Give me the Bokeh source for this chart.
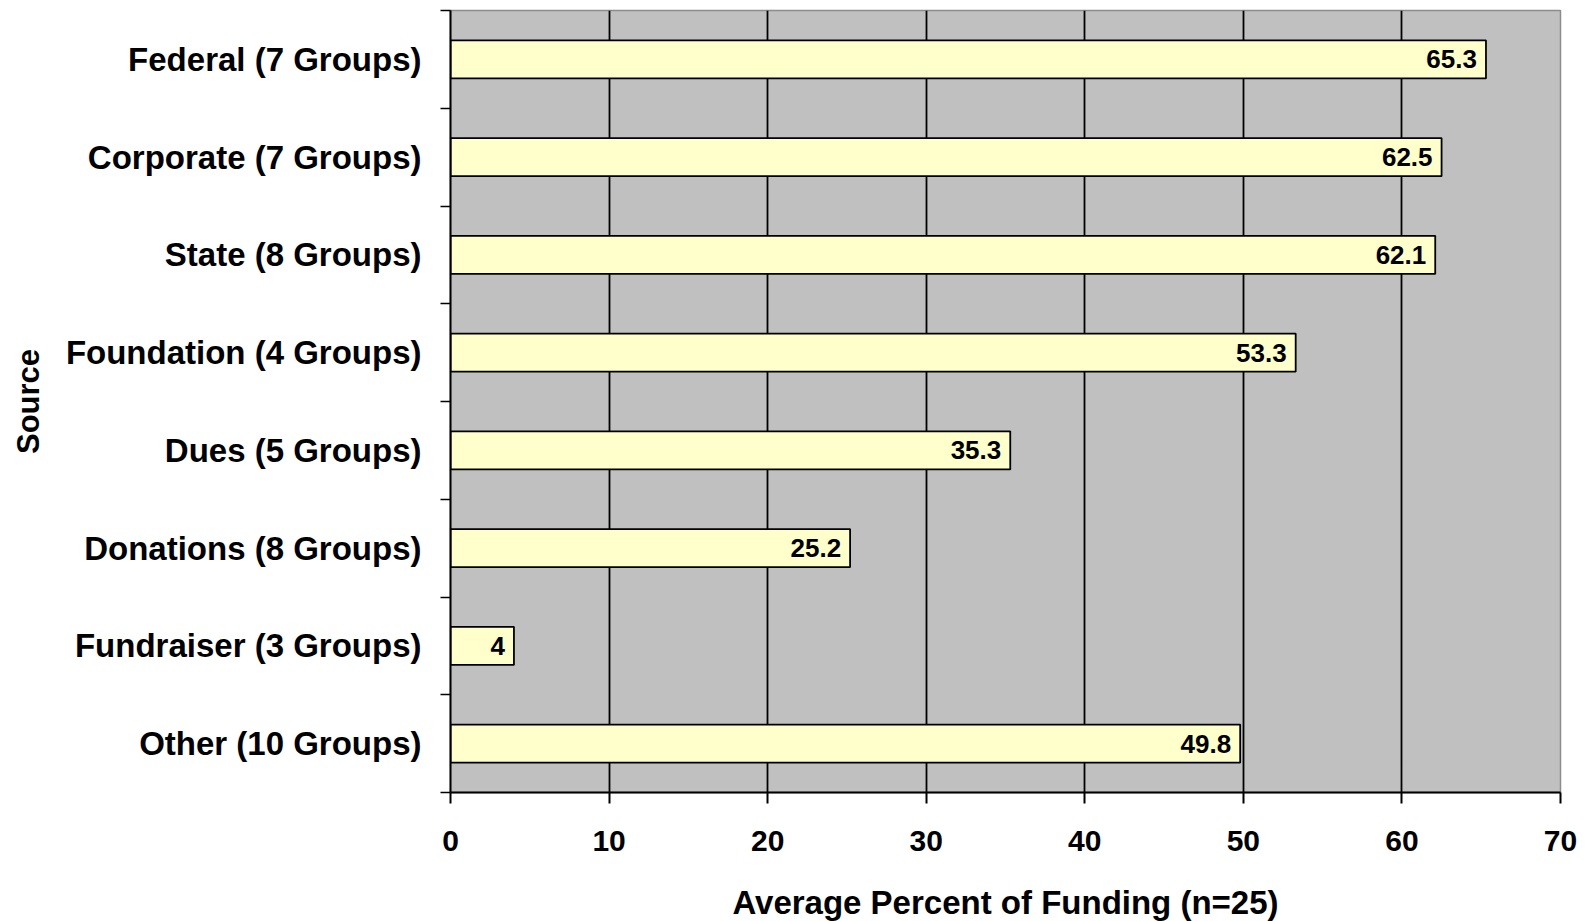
from bokeh.plotting import figure
from bokeh.models import ColumnDataSource, Range1d, FixedTicker, LabelSet
from bokeh.core.properties import value
from bokeh.embed import file_html
from bokeh.resources import INLINE

categories = ["Federal (7 Groups)", "Corporate (7 Groups)", "State (8 Groups)",
              "Foundation (4 Groups)", "Dues (5 Groups)", "Donations (8 Groups)",
              "Fundraiser (3 Groups)", "Other (10 Groups)"]
values = [65.3, 62.5, 62.1, 53.3, 35.3, 25.2, 4, 49.8]
x_ticks = [0, 10, 20, 30, 40, 50, 60, 70]
x_title = "Average Percent of Funding (n=25)"
y_title = "Source"

n = len(categories)
ypos = [n - 1 - i for i in range(n)]
labels = [f"{v:g}" for v in values]
src = ColumnDataSource(dict(y=ypos, v=values, lab=labels, cat=categories))

FONT = "Liberation Sans"

p = figure(frame_width=1110, frame_height=782,
           x_range=Range1d(0, 70), y_range=Range1d(-0.5, n - 0.5),
           output_backend="svg", toolbar_location=None,
           min_border_top=10, min_border_right=20, min_border_left=450, min_border_bottom=0)
p.border_fill_color = "white"
p.background_fill_color = "#C0C0C0"
p.outline_line_color = "#8c8c8c"
p.outline_line_width = 1.5

p.hbar(y="y", left=0, right="v", height=0.39, source=src,
       fill_color="#FFFFCC", line_color="black", line_width=1.8)

lab = LabelSet(x="v", y="y", text="lab", source=src, text_align="right",
               text_baseline="middle", x_offset=-9,
               text_font=value(FONT), text_font_style="bold", text_font_size="26px",
               text_color="black")
p.add_layout(lab)

# x axis
p.xaxis.ticker = FixedTicker(ticks=x_ticks)
p.xaxis.axis_label = x_title
p.xaxis.axis_label_text_font = FONT
p.xaxis.axis_label_text_font_style = "bold"
p.xaxis.axis_label_text_font_size = "33px"
p.xaxis.axis_label_standoff = 30
p.xaxis.major_label_text_font = FONT
p.xaxis.major_label_text_font_style = "bold"
p.xaxis.major_label_text_font_size = "30px"
p.xaxis.major_label_standoff = 27
p.xaxis.major_tick_out = 11
p.xaxis.major_tick_in = 0
p.xaxis.minor_tick_line_color = None
p.xaxis.axis_line_color = "black"
p.xaxis.axis_line_width = 2
p.xaxis.major_tick_line_width = 2

# y axis
p.yaxis.ticker = FixedTicker(ticks=ypos, minor_ticks=[k - 0.5 for k in range(n + 1)])
p.yaxis.major_label_overrides = {y: c for y, c in zip(ypos, categories)}
p.yaxis.axis_label = y_title
p.yaxis.axis_label_text_font = FONT
p.yaxis.axis_label_text_font_style = "bold"
p.yaxis.axis_label_text_font_size = "31px"
p.yaxis.axis_label_standoff = 17
p.yaxis.major_label_text_font = FONT
p.yaxis.major_label_text_font_style = "bold"
p.yaxis.major_label_text_font_size = "33px"
p.yaxis.major_label_standoff = 19
p.yaxis.major_tick_out = 10
p.yaxis.major_tick_in = 0
p.yaxis.major_tick_line_color = None
p.yaxis.minor_tick_out = 10
p.yaxis.minor_tick_in = 0
p.yaxis.minor_tick_line_color = "black"
p.yaxis.minor_tick_line_width = 1.5
p.yaxis.axis_line_color = "black"
p.yaxis.axis_line_width = 2

p.xaxis.major_label_text_color = "black"
p.yaxis.major_label_text_color = "black"
p.xaxis.axis_label_text_color = "black"
p.yaxis.axis_label_text_color = "black"

p.xgrid.ticker = FixedTicker(ticks=x_ticks[1:-1])
p.xgrid.grid_line_color = "black"
p.xgrid.grid_line_width = 1.8
p.ygrid.visible = False

open("out.html", "w").write(file_html(p, INLINE))
